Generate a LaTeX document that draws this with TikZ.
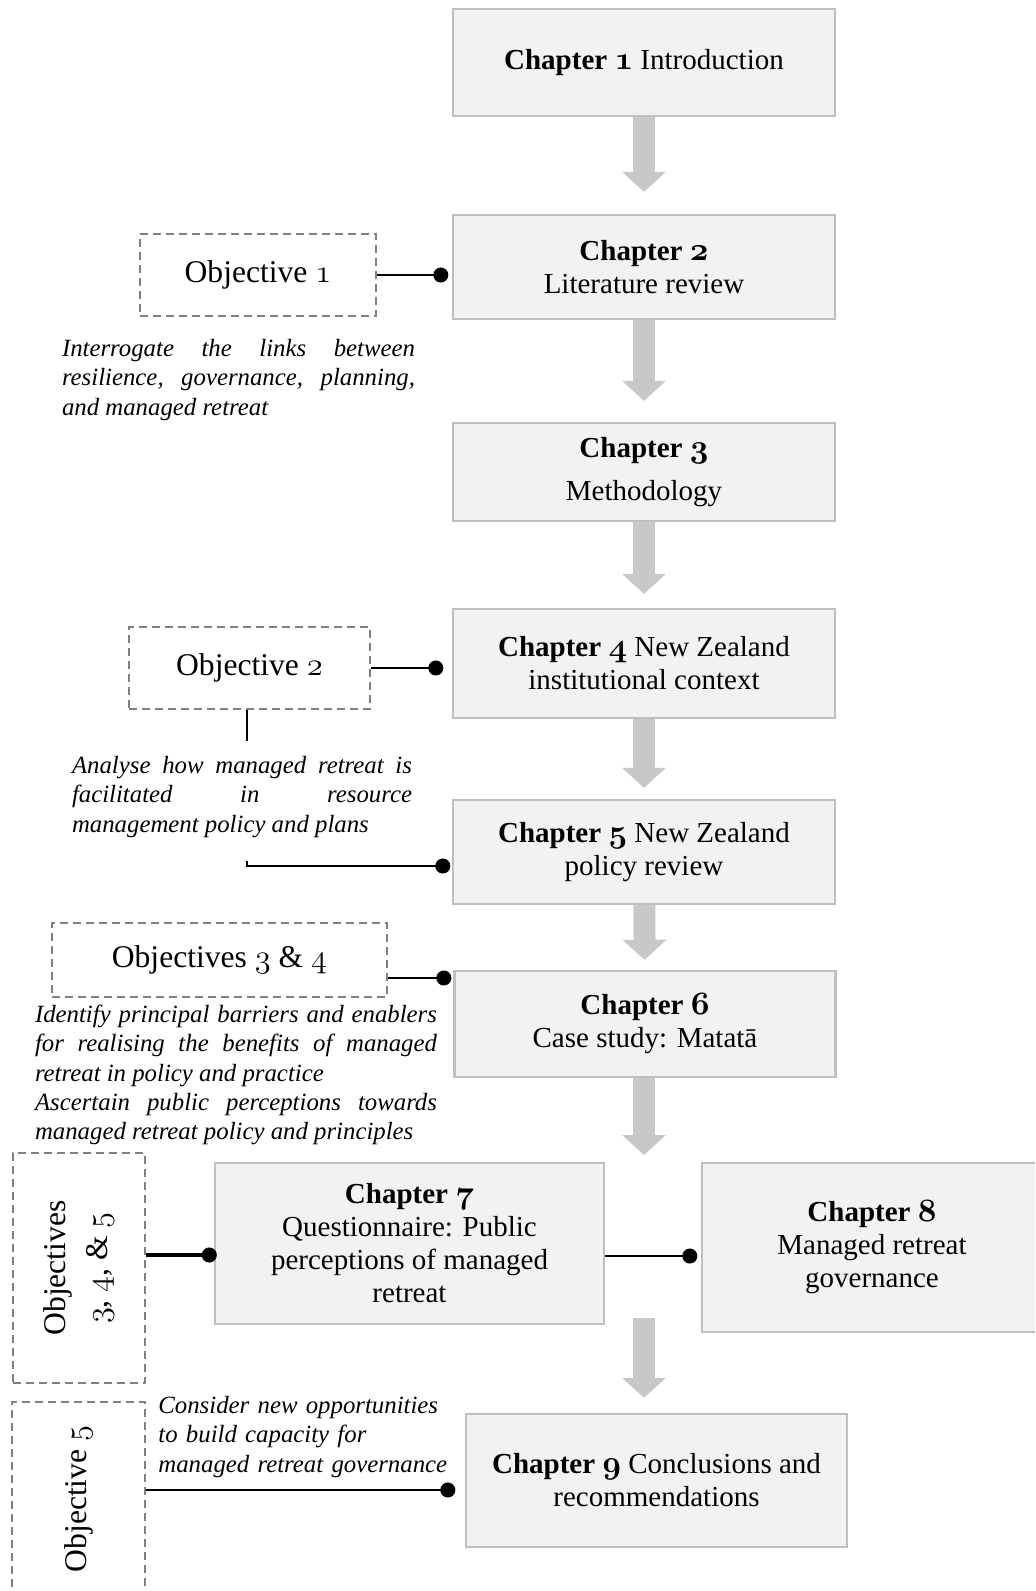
\documentclass[tikz,border=0pt]{standalone}
\usepackage{fontspec}
\setmainfont{Liberation Serif}
\usepackage{graphicx}
\usetikzlibrary{arrows.meta,calc}

\definecolor{boxfill}{RGB}{242,242,242}
\definecolor{boxline}{RGB}{191,191,191}
\definecolor{arrowgray}{RGB}{200,200,200}
\definecolor{dashgray}{RGB}{128,128,128}

% old style figures
\makeatletter
\newcommand{\osn}[1]{\scalebox{1.13}{\usefont{OML}{cmm}{\f@series}{it}#1}}
\makeatother
\newcommand{\chapfont}{\fontsize{14.5}{16.5}\selectfont}
\newcommand{\objfont}{\fontsize{15.8}{19}\selectfont}
\newcommand{\aimfont}{\fontsize{12.4}{14.6}\selectfont\itshape}

\tikzset{
  chapbox/.style={draw=boxline,fill=boxfill,line width=1.2pt,align=center,inner sep=0pt,font=\chapfont},
  objbox/.style={draw=dashgray,line width=1.1pt,dash pattern=on 4pt off 2.5pt,align=center,inner sep=0pt,font=\objfont},
  aimtext/.style={inner sep=0pt,font=\aimfont},
  flowarrow/.style={draw=arrowgray,line width=11pt,-{Triangle[width=22pt,length=10pt,line width=0pt]}},
  pinline/.style={draw=black,line width=1pt,-{Circle[length=7.5pt]}},
}

\begin{document}
\begin{tikzpicture}[x=0.5pt,y=-0.5pt]
		\useasboundingbox (0,0) rectangle (1035,1591);
		\clip (0,0) rectangle (1035,1591);
		% chapters
		\node[chapbox,minimum width=191pt,minimum height=53.5pt] (ch1) at (644,62.5) {\textbf{Chapter \osn{1}} Introduction};
		\node[chapbox,minimum width=191pt,minimum height=52pt] (ch2) at (644,267) {\textbf{Chapter \osn{2}}\\Literature review};
		\node[chapbox,minimum width=191pt,minimum height=49pt] (ch3) at (644,472) {\textbf{Chapter \osn{3}}\\[5pt]Methodology};
		\node[chapbox,minimum width=191pt,minimum height=54.5pt] (ch4) at (644,663.5) {\textbf{Chapter \osn{4}} New Zealand\\institutional context};
		\node[chapbox,minimum width=191pt,minimum height=52pt] (ch5) at (644,852) {\textbf{Chapter \osn{5}} New Zealand\\policy review};
		\node[chapbox,minimum width=190.5pt,minimum height=53pt] (ch6) at (645,1024) {\textbf{Chapter \osn{6}}\\Case study: Matatā};
		\node[chapbox,minimum width=194.5pt,minimum height=80.5pt] (ch7) at (409.5,1243.5) {\textbf{Chapter \osn{7}}\\Questionnaire: Public\\perceptions of managed\\retreat};
		\node[chapbox,minimum width=170pt,minimum height=84.5pt] (ch8) at (872,1247.5) {\textbf{Chapter \osn{8}}\\Managed retreat\\governance};
		\node[chapbox,minimum width=190.5pt,minimum height=66.5pt] (ch9) at (656.5,1480.5) {\textbf{Chapter \osn{9}} Conclusions and\\recommendations};
		% objectives
		\node[objbox,minimum width=118pt,minimum height=41pt] (obj1) at (258,275) {Objective \osn{1}};
		\node[objbox,minimum width=120.5pt,minimum height=41pt] (obj2) at (249.5,668) {Objective \osn{2}};
		\node[objbox,minimum width=167.5pt,minimum height=37pt] (obj34) at (219.5,960) {Objectives \osn{3} \& \osn{4}};
		\node[objbox,minimum width=66pt,minimum height=115pt] (obj345) at (79,1268) {\rotatebox{90}{\begin{tabular}{@{}c@{}}Objectives\\[2pt]\osn{3}, \osn{4}, \& \osn{5}\end{tabular}}};
		\node[objbox,minimum width=66.5pt,minimum height=97pt] (obj5) at (78.5,1499) {\rotatebox{90}{Objective \osn{5}}};
		% aims
		\node[aimtext,text width=176.5pt,align=justify] (aim1) at (238.5,380) {Interrogate the links between\linebreak resilience, governance, planning,\linebreak and managed retreat};
		\node[aimtext,text width=170pt,align=justify] (aim2) at (242,797) {Analyse how managed retreat is\linebreak facilitated in resource\linebreak management policy and plans};
		\node[aimtext,text width=201pt,align=justify] (aim34) at (236,1075) {Identify principal barriers and enablers\linebreak for realising the benefits of managed\linebreak retreat in policy and practice\\Ascertain public perceptions towards\linebreak managed retreat policy and principles};
		\node[aimtext,text width=150pt,align=left,anchor=west] (aim5) at (158,1437) {Consider new opportunities\\to build capacity for\\managed retreat governance};
		% flow arrows
		\coordinate (a6end) at (644,1155);
		\coordinate (a7beg) at (644,1318);
		\draw[flowarrow,shorten >=11pt] (ch1) -- (ch2);
		\draw[flowarrow,shorten >=10.5pt] (ch2) -- (ch3);
		\draw[flowarrow,shorten >=7pt] (ch3) -- (ch4);
		\draw[flowarrow,shorten >=5.5pt] (ch4) -- (ch5);
		\draw[flowarrow,shorten >=5pt] (ch5) -- (ch6);
		\draw[flowarrow] (ch6.south -| a6end) -- (a6end);
		\draw[flowarrow,shorten >=7.5pt] (a7beg) -- (a7beg |- ch9.north);
		% objective links
		\draw[pinline,shorten >=1.75pt] (obj1.east) -- (obj1.east -| ch2.west);
		\draw[pinline,shorten >=4.25pt] (obj2.east) -- (obj2.east -| ch4.west);
		\coordinate (o2a) at ($(obj2.south)+(-2.5,31)$);
		\draw[line width=1pt] (obj2.south -| o2a) -- (o2a);
		\coordinate (o2b) at ($(obj2.south)+(-2.5,151)$);
		\coordinate (c5in) at ($(ch5.west)+(0,14)$);
		\draw[pinline,shorten >=0.75pt] (o2b) |- (c5in);
		\coordinate (o34) at ($(obj34.east)+(0,18)$);
		\draw[pinline,shorten >=1pt] (o34) -- (o34 -| ch6.west);
		\coordinate (o345) at ($(obj345.east)+(0,-13)$);
		\draw[pinline,line width=1.6pt,shorten >=-1.5pt] (o345) -- (o345 -| ch7.west);
		\coordinate (c78) at ($(ch7.east)+(0,12.5)$);
		\draw[pinline,shorten >=1.75pt] (c78) -- (c78 -| ch8.west);
		\coordinate (o59) at ($(obj5.east)+(0,-9)$);
		\draw[pinline,shorten >=4.75pt] (o59) -- (o59 -| ch9.west);
\end{tikzpicture}
\end{document}
